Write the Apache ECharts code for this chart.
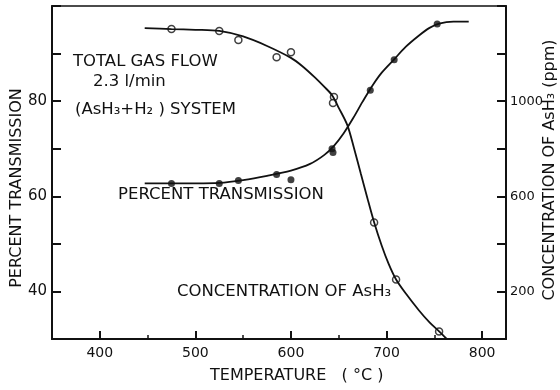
<!DOCTYPE html>
<html>
<head>
<meta charset="utf-8">
<script src="https://cdn.jsdelivr.net/npm/echarts@6/dist/echarts.min.js"></script>
<style>
  html, body { margin: 0; padding: 0; background: #fff; }
  #chart { width: 560px; height: 390px; }
</style>
</head>
<body>
<div id="chart"></div>
<script>
// temperature (°C), percent transmission, AsH3 (ppm)
var transPoints = [[475, 62.7], [525, 62.7], [545, 63.3], [585, 64.6], [600, 63.5],
	[643, 70.0], [644, 69.2], [683, 82.3], [708, 88.7], [753, 96.2]];
var concPoints = [[475, 1303], [525, 1295], [545, 1257], [585, 1185], [600, 1206],
	[645, 1017], [644, 992], [687, 490], [710, 250], [755, 32]];

// the hand drawn curves through them
var transCurve = [[447, 62.7], [475, 62.7], [500, 62.7], [525, 62.8], [550, 63.4],
	[575, 64.3], [600, 65.4], [620, 66.8], [635, 68.7], [645, 70.6], [655, 73.2],
	[665, 76.4], [675, 79.9], [685, 83.2], [695, 86.0], [708, 88.8], [720, 91.4],
	[734, 93.8], [745, 95.4], [755, 96.3], [770, 96.7], [786, 96.7]];
var concCurve = [[447, 1307], [475, 1303], [500, 1300], [525, 1295], [550, 1272],
	[575, 1232], [600, 1182], [612, 1147], [625, 1100], [635, 1060], [643, 1025],
	[650, 972], [659, 899], [666, 802], [673, 697], [680, 592], [687, 491],
	[695, 392], [702, 318], [710, 250], [720, 192], [734, 120], [745, 70],
	[755, 32], [763, 0]];

var xLabels = [400, 500, 600, 700, 800];
var xMinor = [450, 550, 650, 750];
var leftLabels = [40, 60, 80];
var rightLabels = [200, 600, 1000];

var font = 'DejaVu Sans';
var ink = '#111';

var chart = echarts.init(document.getElementById('chart'));

function note(text, x, y) {
	return {
		type: 'text', x: x, y: y,
		style: { text: text, fill: ink, font: '16.5px "' + font + '"', textVerticalAlign: 'middle' }
	};
}

chart.setOption({
	backgroundColor: '#fff',
	animation: false,
	grid: { left: 52, right: 54, top: 6, bottom: 51, show: true, borderColor: ink, borderWidth: 1.5 },
	xAxis: [{
		type: 'value', min: 350, max: 825,
		axisLine: { lineStyle: { color: ink, width: 2 } },
		axisTick: { inside: true, length: 8, customValues: xLabels, lineStyle: { color: ink, width: 2 } },
		axisLabel: { customValues: xLabels, color: ink, fontFamily: font, fontSize: 14, margin: 7 },
		splitLine: { show: false }
	}, {
		type: 'value', min: 350, max: 825, position: 'bottom',
		axisLine: { show: false },
		axisTick: { inside: true, length: 4, customValues: xMinor, lineStyle: { color: ink, width: 1.5 } },
		axisLabel: { show: false },
		splitLine: { show: false }
	}],
	yAxis: [{
		type: 'value', min: 30, max: 100, interval: 10, position: 'left',
		axisLine: { show: true, lineStyle: { color: ink, width: 2 } },
		axisTick: { show: true, inside: true, length: 9, lineStyle: { color: ink, width: 2 } },
		axisLabel: {
			color: ink, fontFamily: font, fontSize: 15, margin: 5,
			formatter: function (v) { return leftLabels.indexOf(v) >= 0 ? String(v) : ''; }
		},
		splitLine: { show: false }
	}, {
		type: 'value', min: 0, max: 1400, interval: 200, position: 'right',
		axisLine: { show: true, lineStyle: { color: ink, width: 2 } },
		axisTick: { show: true, inside: true, length: 9, lineStyle: { color: ink, width: 2 } },
		axisLabel: {
			color: ink, fontFamily: font, fontSize: 13, margin: 4,
			formatter: function (v) { return rightLabels.indexOf(v) >= 0 ? String(v) : ''; }
		},
		splitLine: { show: false }
	}],
	graphic: [
		note('TOTAL GAS FLOW', 73, 62),
		note('2.3 l/min', 93, 82),
		note('(AsH₃+H₂ ) SYSTEM', 75, 110),
		note('PERCENT TRANSMISSION', 118, 195),
		note('CONCENTRATION OF AsH₃', 177, 292),
		{ type: 'text', x: 210, y: 376,
			style: { text: 'TEMPERATURE   ( °C )', fill: ink, font: '16px "' + font + '"', textVerticalAlign: 'middle' } },
		{ type: 'text', x: 17, y: 188, rotation: Math.PI / 2,
			style: { text: 'PERCENT TRANSMISSION', fill: ink, font: '16px "' + font + '"',
				textAlign: 'center', textVerticalAlign: 'middle' } },
		{ type: 'text', x: 550, y: 170, rotation: Math.PI / 2,
			style: { text: 'CONCENTRATION OF AsH₃ (ppm)', fill: ink, font: '16px "' + font + '"',
				textAlign: 'center', textVerticalAlign: 'middle' } }
	],
	series: [{
		name: 'transmission curve', type: 'line', yAxisIndex: 0, data: transCurve,
		smooth: 0.3, showSymbol: false, clip: true,
		lineStyle: { color: ink, width: 1.8 }
	}, {
		name: 'concentration curve', type: 'line', yAxisIndex: 1, data: concCurve,
		smooth: 0.3, showSymbol: false, clip: true,
		lineStyle: { color: ink, width: 1.8 }
	}, {
		name: 'percent transmission', type: 'scatter', yAxisIndex: 0, data: transPoints,
		symbolSize: 7, itemStyle: { color: ink }
	}, {
		name: 'concentration', type: 'scatter', yAxisIndex: 1, data: concPoints,
		symbolSize: 7, itemStyle: { color: '#fff', borderColor: ink, borderWidth: 1.5 }
	}]
});
</script>
</body>
</html>
